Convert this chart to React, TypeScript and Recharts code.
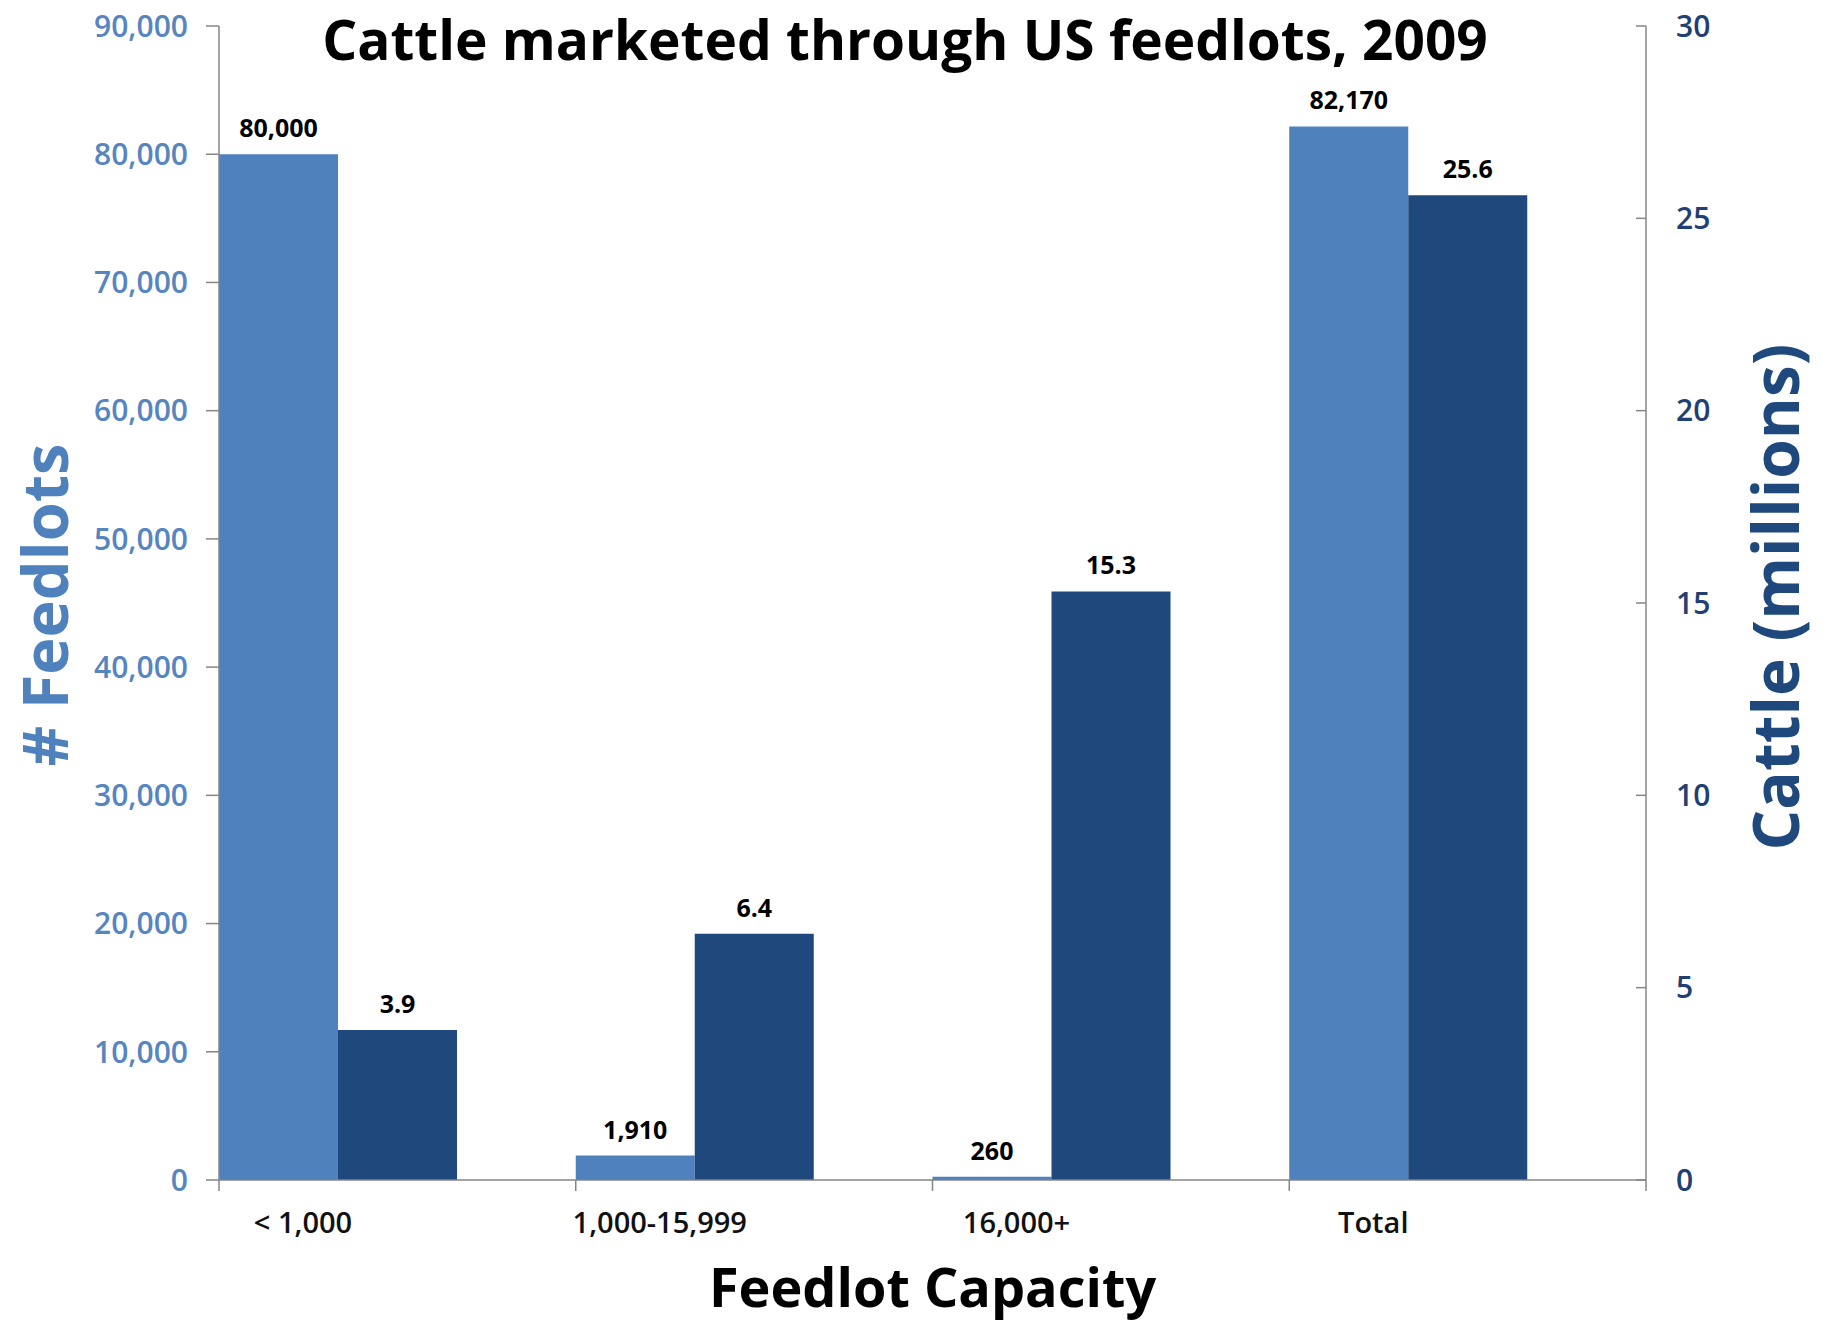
import { BarChart, Bar, XAxis, YAxis, LabelList, Label } from 'recharts';

const CAPACITY = ['< 1,000', '1,000-15,999', '16,000+', 'Total'];
const FEEDLOTS = [80000, 1910, 260, 82170];
const CATTLE_MILLIONS = [3.9, 6.4, 15.3, 25.6];
const FEEDLOT_TICKS = [0, 10000, 20000, 30000, 40000, 50000, 60000, 70000, 80000, 90000];
const CATTLE_TICKS = [0, 5, 10, 15, 20, 25, 30];

const rows = CAPACITY.map((capacity, i) => ({
  capacity,
  feedlots: FEEDLOTS[i],
  cattle: CATTLE_MILLIONS[i],
}));

const CHART_W = 1823;
const CHART_H = 1325;
const LEFT_W = 219;
const RIGHT_W = 177;
const BAND = (CHART_W - LEFT_W - RIGHT_W) / CAPACITY.length;

const FONT = '"Open Sans", sans-serif';
const LIGHT = '#4F81BD';
const DARK = '#1F497D';
const AXIS = '#868686';

const fmtThousands = (v: number) => v.toLocaleString('en-US');

function FeedlotTick({ x, y, payload }: any) {
  return (
    <g>
      <line x1={x - 13} x2={x} y1={y} y2={y} stroke={AXIS} strokeWidth={1.5} />
      <text x={x - 31} y={y} dy="0.36em" textAnchor="end" fill="#5685BF"
        fontFamily={FONT} fontSize={30} fontWeight={600}>
        {fmtThousands(payload.value)}
      </text>
    </g>
  );
}

function CattleTick({ x, y, payload }: any) {
  return (
    <g>
      <line x1={x - 10} x2={x} y1={y} y2={y} stroke={AXIS} strokeWidth={1.5} />
      <text x={x + 30} y={y} dy="0.36em" textAnchor="start" fill="#213F72"
        fontFamily={FONT} fontSize={30} fontWeight={600}>
        {payload.value}
      </text>
    </g>
  );
}

// category ticks sit on the band edges, labels lean to the left of each band
function CapacityTick({ x, y, payload, index }: any) {
  const left = x - BAND / 2;
  return (
    <g>
      <line x1={left} x2={left} y1={y} y2={y + 11} stroke={AXIS} strokeWidth={1.5} />
      {index === CAPACITY.length - 1 && (
        <line x1={x + BAND / 2} x2={x + BAND / 2} y1={y} y2={y + 11} stroke={AXIS} strokeWidth={1.5} />
      )}
      <text x={left + 84} y={y + 53} textAnchor="middle" fill="#111"
        fontFamily={FONT} fontSize={29} fontWeight={600}>
        {payload.value}
      </text>
    </g>
  );
}

export default function App() {
  return (
    <div style={{ position: 'absolute', left: 0, top: 0, width: CHART_W, height: CHART_H, background: '#fff' }}>
      <svg width={CHART_W} height={80} style={{ position: 'absolute', left: 0, top: 0, pointerEvents: 'none', zIndex: 1 }}>
        <text x={905} y={60} textAnchor="middle" fill="#000" fontFamily={FONT} fontSize={55} fontWeight={700}>
          Cattle marketed through US feedlots, 2009
        </text>
      </svg>
      <BarChart
        width={CHART_W}
        height={CHART_H}
        data={rows}
        margin={{ top: 26, right: 0, bottom: 0, left: 0 }}
        barGap={0}
        barCategoryGap={0}
      >
        <XAxis
          dataKey="capacity"
          height={145}
          interval={0}
          axisLine={{ stroke: AXIS, strokeWidth: 1.5 }}
          tickLine={false}
          tickSize={0}
          tickMargin={0}
          tick={<CapacityTick />}
        >
          <Label
            content={({ viewBox }: any) => (
              <text x={viewBox.x + viewBox.width / 2} y={viewBox.y + 127} textAnchor="middle"
                fill="#000" fontFamily={FONT} fontSize={54} fontWeight={700}>
                Feedlot Capacity
              </text>
            )}
          />
        </XAxis>
        <YAxis
          yAxisId="feedlots"
          width={LEFT_W}
          domain={[0, 90000]}
          ticks={FEEDLOT_TICKS}
          interval={0}
          axisLine={{ stroke: AXIS, strokeWidth: 1.5 }}
          tickLine={false}
          tickSize={0}
          tickMargin={0}
          tick={<FeedlotTick />}
        >
          <Label
            content={({ viewBox }: any) => {
              const cx = viewBox.x + 45;
              const cy = viewBox.y + viewBox.height / 2 + 2;
              return (
                <text x={cx} y={cy} transform={`rotate(-90 ${cx} ${cy})`} textAnchor="middle" dy="0.36em"
                  fill={LIGHT} fontFamily={FONT} fontSize={63} fontWeight={700}>
                  # Feedlots
                </text>
              );
            }}
          />
        </YAxis>
        <YAxis
          yAxisId="cattle"
          orientation="right"
          width={RIGHT_W}
          domain={[0, 30]}
          ticks={CATTLE_TICKS}
          interval={0}
          axisLine={{ stroke: AXIS, strokeWidth: 1.5 }}
          tickLine={false}
          tickSize={0}
          tickMargin={0}
          tick={<CattleTick />}
        >
          <Label
            content={({ viewBox }: any) => {
              const cx = viewBox.x + 130;
              const cy = viewBox.y + viewBox.height / 2 - 6;
              return (
                <text x={cx} y={cy} transform={`rotate(-90 ${cx} ${cy})`} textAnchor="middle" dy="0.36em"
                  fill={DARK} fontFamily={FONT} fontSize={64} fontWeight={700}>
                  Cattle (millions)
                </text>
              );
            }}
          />
        </YAxis>
        <Bar yAxisId="feedlots" dataKey="feedlots" fill={LIGHT} isAnimationActive={false}>
          <LabelList
            dataKey="feedlots"
            position="top"
            offset={17}
            formatter={(v: any) => fmtThousands(Number(v))}
            style={{ fill: '#000', fontFamily: FONT, fontSize: 25, fontWeight: 700 }}
          />
        </Bar>
        <Bar yAxisId="cattle" dataKey="cattle" fill={DARK} isAnimationActive={false}>
          <LabelList
            dataKey="cattle"
            position="top"
            offset={17}
            formatter={(v: any) => Number(v).toFixed(1)}
            style={{ fill: '#000', fontFamily: FONT, fontSize: 25, fontWeight: 700 }}
          />
        </Bar>
        {/* empty third slot keeps each pair flush with the left edge of its band */}
        <Bar yAxisId="cattle" dataKey="reserved" fill="none" isAnimationActive={false} />
      </BarChart>
    </div>
  );
}
